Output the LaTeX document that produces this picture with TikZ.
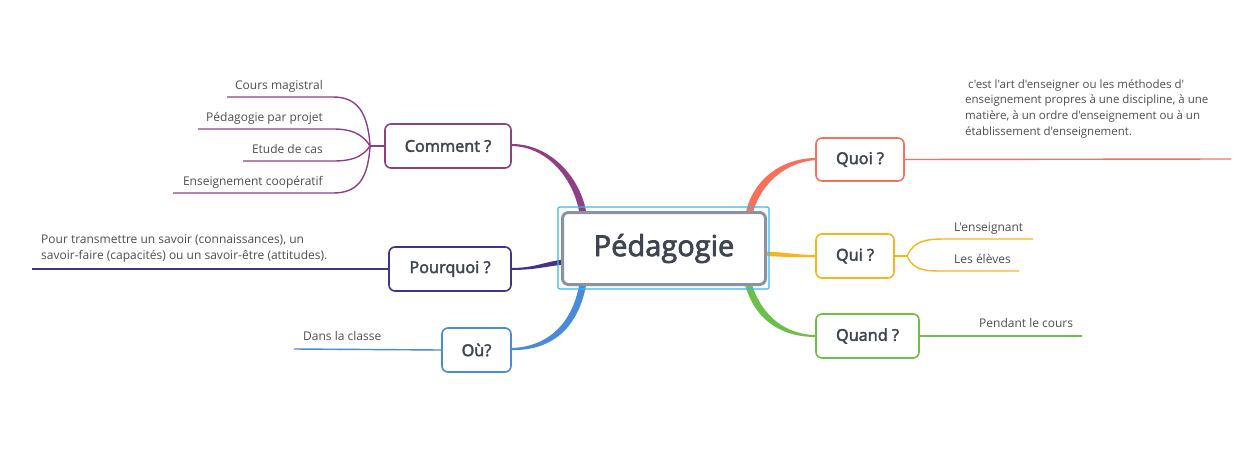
\documentclass[tikz,border=0pt]{standalone}
\usepackage{fontspec}
\setmainfont{Open Sans}[Ligatures=TeXOff]
\newfontfamily\lbl{Open Sans}[FakeBold=2.5,Ligatures=TeXOff]
\definecolor{cmC}{HTML}{8F3F86}
\definecolor{poC}{HTML}{45308C}
\definecolor{ouC}{HTML}{4A8BD9}
\definecolor{quoiC}{HTML}{F7705C}
\definecolor{quiC}{HTML}{F8B515}
\definecolor{quandC}{HTML}{6CC04A}
\definecolor{grayB}{HTML}{8A93A3}
\definecolor{selB}{HTML}{36B9F5}
\definecolor{labelc}{HTML}{3E4551}
\definecolor{leafc}{HTML}{4E4E4E}
\begin{document}
\begin{tikzpicture}[x=1pt,y=-1pt,
  box/.style={draw, line width=1.6pt, rounded corners=6pt, fill=white, font=\lbl\fontsize{16.3}{19}\selectfont, text=labelc, inner sep=0pt},
  leaf/.style={font=\fontsize{12}{14}\selectfont, text=leafc, inner sep=0pt},
  ln/.style={line width=1.4pt}]
\useasboundingbox (0,0) rectangle (1247,458);

% ---- tapered connectors (drawn first, behind boxes)
\fill[cmC] (579.5,214) .. controls (574.5,181) and (549,146.5) .. (511,146)
  -- (511,144) .. controls (551,143.5) and (581.5,179) .. (586.5,214) -- cycle;
\fill[poC] (564,259.5) .. controls (545,261.5) and (535,268) .. (511,268)
  -- (511,270) .. controls (535,270) and (545,266.5) .. (564,264.5) -- cycle;
\fill[ouC] (579.5,283) .. controls (572,328) and (543,347.5) .. (511,348)
  -- (511,350) .. controls (548,351) and (578,332) .. (586.5,283) -- cycle;
\fill[quoiC] (745.5,214) .. controls (753,178) and (783,158) .. (816,158)
  -- (816,160) .. controls (787,162) and (761,182) .. (752.5,214) -- cycle;
\fill[quiC] (764,251.5) .. controls (790,252.5) and (795,255) .. (816,255)
  -- (816,257) .. controls (795,257.5) and (790,257) .. (764,256) -- cycle;
\fill[quandC] (744.5,283) .. controls (755,322) and (783,337) .. (816,337)
  -- (816,335) .. controls (788,335) and (762,318) .. (751.5,283) -- cycle;

% ---- central node
\node[draw=selB, line width=1.2pt, rounded corners=2pt, minimum width=211pt, minimum height=82pt, inner sep=0pt] (sel) at (663.5,248) {};
\node[draw=grayB, line width=3pt, rounded corners=6pt, fill=white, minimum width=203pt, minimum height=72pt, inner sep=0pt,
  font=\lbl\fontsize{29}{33}\selectfont, text=labelc] (c) at (664,248.5) {Pédagogie};

% ---- main topic boxes
\node[box, draw=cmC, minimum width=126pt, minimum height=44pt] (cm) at (448,146) {Comment ?};
\node[box, draw=poC, minimum width=122pt, minimum height=44pt] (po) at (450,269) {Pourquoi ?};
\node[box, draw=ouC, minimum width=69pt, minimum height=44pt] (ou) at (476.5,350) {Où?};
\node[box, draw=quoiC, minimum width=88pt, minimum height=43pt] (quoi) at (860,159.5) {Quoi ?};
\node[box, draw=quiC, minimum width=78pt, minimum height=44pt] (qui) at (855,256) {Qui ?};
\node[box, draw=quandC, minimum width=103pt, minimum height=44pt] (quand) at (867.5,336) {Quand ?};

% ---- Comment children
\coordinate (jc) at (370,146);
\coordinate (c1) at (333,97);
\coordinate (c2) at (333,129);
\coordinate (c3) at (333,161);
\coordinate (c4) at (333,193);
\draw[ln, cmC] (cm.west) -- (jc);
\draw[ln, cmC] (jc) .. controls (368,112) and (357,97) .. (c1) -- (227,97);
\draw[ln, cmC] (jc) .. controls (362,133) and (350,129) .. (c2) -- (198,129);
\draw[ln, cmC] (jc) .. controls (362,158) and (350,161) .. (c3) -- (243,161);
\draw[ln, cmC] (jc) .. controls (368,180) and (357,193) .. (c4) -- (173,193);
\node[leaf, anchor=base east] (t1) at (323,89) {Cours magistral};
\node[leaf, anchor=base east] (t2) at (323,121) {Pédagogie par projet};
\node[leaf, anchor=base east] (t3) at (323,153) {Etude de cas};
\node[leaf, anchor=base east] (t4) at (323,185) {Enseignement coopératif};

% ---- Pourquoi child
\coordinate (pe) at (32,269);
\draw[ln, poC] (po.west) -- (pe);
\node[leaf, anchor=north west, align=left, font=\fontsize{12}{16}\selectfont] (pt) at (41,234)
  {Pour transmettre un savoir (connaissances), un\\savoir-faire (capacités) ou un savoir-être (attitudes).};

% ---- Où child
\coordinate (oe) at (294,349);
\draw[ln, ouC] (ou.west) -- (oe);
\node[leaf, anchor=base west] (ot) at (303,340) {Dans la classe};

% ---- Quoi child
\coordinate (qe) at (1231,159);
\draw[ln, quoiC] (quoi.east) -- (qe);
\node[leaf, anchor=north west, align=left, font=\fontsize{11.5}{15.7}\selectfont] (qt) at (965,79)
  {\hspace*{3pt}c'est l'art d'enseigner ou les méthodes d'\\enseignement propres à une discipline, à une\\matière, à un ordre d'enseignement ou à un\\établissement d'enseignement.};

% ---- Qui children
\coordinate (jq) at (907,256);
\coordinate (q1) at (945,239);
\coordinate (q2) at (945,271);
\draw[ln, quiC] (qui.east) -- (jq);
\draw[ln, quiC] (jq) .. controls (914,241) and (925,239) .. (q1) -- (1033,239);
\draw[ln, quiC] (jq) .. controls (914,271) and (925,271) .. (q2) -- (1019,271);
\node[leaf, anchor=base west] (qa) at (954,231) {L'enseignant};
\node[leaf, anchor=base west] (qb) at (954,263) {Les élèves};

% ---- Quand child
\coordinate (qde) at (1082,336);
\draw[ln, quandC] (quand.east) -- (qde);
\node[leaf, anchor=base west] (qdt) at (979,327) {Pendant le cours};
\end{tikzpicture}
\end{document}
